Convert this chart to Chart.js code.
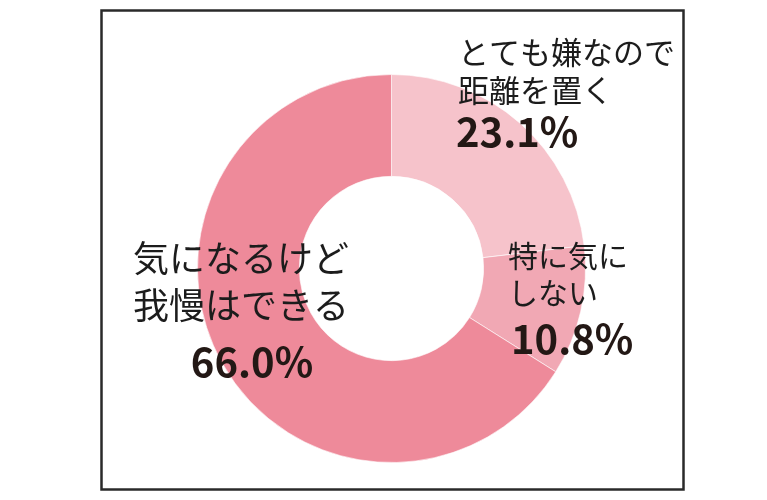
<!DOCTYPE html>
<html>
<head>
<meta charset="utf-8">
<script src="https://cdn.jsdelivr.net/npm/chart.js@4"></script>
<style>
  html, body { margin: 0; padding: 0; background: #fff; }
  #wrap { position: relative; width: 767px; height: 500px; }
</style>
</head>
<body>
<div id="wrap"><canvas id="chart" width="767" height="500"></canvas></div>
<script>
// answers in drawing order, clockwise from 12 o'clock
const categories = [
  ['とても嫌なので', '距離を置く'],
  ['特に気に', 'しない'],
  ['気になるけど', '我慢はできる']
];
const values = [23.1, 10.8, 66.0];
const colors = ['#f6c3cb', '#f1a8b4', '#ee8a9a'];

// where each label block sits, plus alignment
const labelSpots = [
  { x: 458, lines: [52, 90], pctX: 456, pctY: 132, align: 'left', size: 31 },
  { x: 508, lines: [256, 293], pctX: 511, pctY: 339, align: 'left', size: 30 },
  { x: 133, lines: [258, 305], pctX: 252, pctY: 362, align: 'left', size: 36, pctAlign: 'center' }
];

const frame = {
  id: 'frame',
  beforeDraw(chart) {
    const ctx = chart.ctx;
    ctx.save();
    ctx.fillStyle = '#fff';
    ctx.fillRect(0, 0, chart.width, chart.height);
    ctx.strokeStyle = '#2a2a2a';
    ctx.lineWidth = 2.5;
    ctx.strokeRect(101.5, 10.5, 582, 479);
    ctx.restore();
  }
};

const labels = {
  id: 'labels',
  afterDraw(chart) {
    const ctx = chart.ctx;
    ctx.save();
    ctx.textBaseline = 'middle';
    categories.forEach((lines, i) => {
      const s = labelSpots[i];
      ctx.fillStyle = '#1c1c1c';
      ctx.textAlign = s.align;
      ctx.font = `400 ${s.size}px "Noto Sans CJK JP"`;
      lines.forEach((t, j) => ctx.fillText(t, s.x, s.lines[j]));
      ctx.fillStyle = '#231815';
      ctx.textAlign = s.pctAlign || s.align;
      ctx.font = 'bold 40px "Noto Sans CJK JP"';
      ctx.fillText(values[i].toFixed(1) + '%', s.pctX, s.pctY);
    });
    ctx.restore();
  }
};

new Chart(document.getElementById('chart'), {
  type: 'doughnut',
  data: {
    labels: categories.map(c => c.join('')),
    datasets: [{
      data: values,
      backgroundColor: colors,
      borderColor: 'rgba(255,255,255,0.6)',
      borderWidth: 1
    }]
  },
  options: {
    responsive: false,
    animation: false,
    cutout: '47.5%',
    layout: {
      padding: { top: 73, bottom: 36, left: 197, right: 181 }
    },
    plugins: {
      legend: { display: false },
      tooltip: { enabled: false }
    }
  },
  plugins: [frame, labels]
});
</script>
</body>
</html>
